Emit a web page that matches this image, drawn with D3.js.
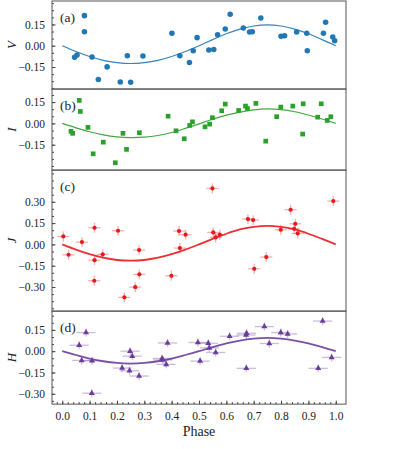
<!DOCTYPE html>
<html><head>
<meta charset="utf-8">
<script src="https://d3js.org/d3.v7.min.js"></script>
<style>
  body { margin: 0; background: #fff; }
  text { font-family: 'Liberation Serif', 'DejaVu Serif', serif; fill: #222; }
</style>
</head>
<body>
<svg id="chart" width="399" height="449"></svg>
<script>

// light curves, phase-folded
const phaseV = [0.045,0.054,0.081,0.081,0.109,0.132,0.164,0.212,0.238,0.250,0.295,0.401,0.430,0.465,0.479,0.493,0.536,0.554,0.568,0.596,0.614,0.662,0.685,0.695,0.726,0.800,0.813,0.857,0.894,0.896,0.955,0.963,0.989,0.996];
const magV   = [-0.082,-0.066,0.212,0.099,-0.080,-0.238,-0.149,-0.255,-0.071,-0.257,-0.073,0.088,-0.071,-0.118,-0.035,0.057,-0.030,-0.027,0.078,0.118,0.222,0.125,0.097,0.099,0.196,0.067,0.071,0.097,0.088,-0.035,0.088,0.166,0.062,0.035];

const phaseI = [0.032,0.038,0.062,0.066,0.094,0.113,0.150,0.194,0.222,0.235,0.282,0.387,0.416,0.446,0.466,0.476,0.522,0.539,0.549,0.583,0.596,0.645,0.670,0.677,0.708,0.744,0.784,0.799,0.843,0.879,0.881,0.934,0.947,0.969,0.982];
const magI   = [-0.056,-0.070,0.162,0.084,-0.028,-0.214,-0.132,-0.277,-0.070,-0.183,-0.066,0.051,-0.052,-0.108,-0.014,0.011,-0.024,-0.005,0.040,0.089,0.136,0.091,0.122,0.105,0.141,-0.125,0.047,0.115,0.122,-0.075,0.138,0.044,0.138,0.021,0.047];

const phaseJ = [0.004,0.023,0.072,0.118,0.118,0.117,0.148,0.204,0.227,0.267,0.281,0.282,0.399,0.427,0.430,0.451,0.549,0.552,0.561,0.576,0.679,0.698,0.702,0.746,0.799,0.835,0.848,0.852,0.861,0.991];
const magJ   = [0.056,-0.073,0.016,0.117,-0.111,-0.256,-0.070,0.096,-0.373,-0.301,-0.040,-0.211,-0.221,0.094,-0.026,0.068,0.394,0.084,0.049,0.068,0.178,0.171,-0.172,-0.089,0.103,0.244,0.110,0.145,0.077,0.305];

const phaseH = [0.062,0.087,0.071,0.109,0.108,0.219,0.246,0.248,0.256,0.281,0.365,0.368,0.380,0.385,0.496,0.504,0.534,0.538,0.561,0.612,0.672,0.674,0.673,0.739,0.757,0.799,0.824,0.936,0.952,0.985];
const magH   = [0.042,0.131,-0.065,-0.068,-0.296,-0.119,-0.138,0.000,-0.035,-0.175,-0.051,-0.062,-0.093,0.058,0.061,-0.070,0.056,0.023,-0.009,0.105,0.114,0.126,-0.121,0.173,0.054,0.131,0.121,-0.121,0.212,-0.044];

// error bar half-widths [phase, mag] for J and H
const errJ = [0.022, 0.035];
const errH = [0.035, 0.028];

// fitted model curves, read at phase steps of 0.05
const fitPhase = [0,0.05,0.10,0.15,0.20,0.25,0.30,0.35,0.40,0.45,0.50,0.55,0.60,0.65,0.70,0.75,0.80,0.85,0.90,0.95,1.0];
const fitV = [0,-0.041,-0.076,-0.103,-0.119,-0.125,-0.119,-0.103,-0.076,-0.041,0,0.043,0.084,0.117,0.139,0.147,0.139,0.117,0.084,0.043,0];
const fitI = [0,-0.031,-0.059,-0.081,-0.095,-0.100,-0.097,-0.085,-0.064,-0.035,-0.003,0.029,0.058,0.080,0.095,0.102,0.097,0.082,0.059,0.031,0];
const fitJ = [0,-0.037,-0.069,-0.094,-0.110,-0.115,-0.110,-0.094,-0.069,-0.037,0,0.039,0.075,0.105,0.124,0.131,0.124,0.105,0.075,0.039,0];
const fitH = [0,-0.027,-0.052,-0.071,-0.083,-0.087,-0.083,-0.071,-0.052,-0.027,0,0.029,0.055,0.075,0.088,0.093,0.088,0.075,0.055,0.029,0];

// y limits and major ticks of each panel
const ylimV = [-0.305, 0.315], ticksV = [-0.15, 0, 0.15];
const ylimI = [-0.329, 0.242], ticksI = [-0.15, 0, 0.15];
const ylimJ = [-0.470, 0.523], ticksJ = [-0.30, -0.15, 0, 0.15, 0.30];
const ylimH = [-0.373, 0.282], ticksH = [-0.30, -0.15, 0, 0.15];
const xTicks = [0,0.1,0.2,0.3,0.4,0.5,0.6,0.7,0.8,0.9,1.0];

const panels = [
  {label:"(a)", band:"V", ph:phaseV, mag:magV, fit:fitV, ylim:ylimV, ticks:ticksV, color:"#1f77b4", marker:"circle", lw:1.2},
  {label:"(b)", band:"I", ph:phaseI, mag:magI, fit:fitI, ylim:ylimI, ticks:ticksI, color:"#2ca02c", marker:"square", lw:1.2},
  {label:"(c)", band:"J", ph:phaseJ, mag:magJ, fit:fitJ, ylim:ylimJ, ticks:ticksJ, color:"#e8191c", marker:"dot", lw:1.8, err:errJ},
  {label:"(d)", band:"H", ph:phaseH, mag:magH, fit:fitH, ylim:ylimH, ticks:ticksH, color:"#6a3d9a", marker:"tri", lw:1.8, err:errH}
];

const svg = d3.select("#chart");
const left = 52, right = 346, top0 = 1;
const pxPerUnit = 142;   // same vertical scale in every panel
const serif = "'Liberation Serif', 'DejaVu Serif', serif";

const x = d3.scaleLinear().domain([-0.0375, 1.0375]).range([left, right]);

let yTop = top0;
panels.forEach((p, i) => {
  let h = (p.ylim[1] - p.ylim[0]) * pxPerUnit;
  let y = d3.scaleLinear().domain(p.ylim).range([yTop + h, yTop]);
  let g = svg.append("g");

  // minor ticks every 0.05
  let minor = d3.range(Math.ceil(p.ylim[0] / 0.05), Math.floor(p.ylim[1] / 0.05) + 1).map(k => +(k * 0.05).toFixed(2));
  g.append("g").attr("transform", "translate(" + left + ",0)")
    .call(d3.axisLeft(y).tickValues(minor).tickSize(-2).tickFormat(""))
    .call(a => a.select(".domain").remove())
    .selectAll("line").attr("stroke", "#444");

  g.append("g").attr("transform", "translate(" + left + ",0)")
    .attr("font-family", serif)
    .call(d3.axisLeft(y).tickValues(p.ticks).tickSize(-3.5).tickPadding(7).tickFormat(d3.format(".2f")))
    .call(a => a.select(".domain").remove())
    .call(a => a.selectAll("line").attr("stroke", "#444"))
    .call(a => a.selectAll("text").style("font-family", serif).style("font-size", "11.5px").attr("fill", "#222"));

  // band name
  g.append("text")
    .attr("transform", "translate(16," + (yTop + h / 2) + ") rotate(-90)")
    .attr("text-anchor", "middle")
    .style("font-size", "13px").style("font-style", "italic")
    .text(p.band);

  // panel tag
  g.append("text").attr("x", 60).attr("y", yTop + 21)
    .style("font-size", "13.5px").text(p.label);

  // error bars
  if (p.err) {
    let eb = g.append("g").attr("stroke", p.color).attr("stroke-opacity", 0.35).attr("stroke-width", 1.3);
    p.ph.forEach((ph, j) => {
      eb.append("line").attr("x1", x(ph - p.err[0])).attr("x2", x(ph + p.err[0]))
        .attr("y1", y(p.mag[j])).attr("y2", y(p.mag[j]));
      eb.append("line").attr("x1", x(ph)).attr("x2", x(ph))
        .attr("y1", y(p.mag[j] - p.err[1])).attr("y2", y(p.mag[j] + p.err[1]));
    });
  }

  // fitted curve
  let line = d3.line().x((d, j) => x(fitPhase[j])).y(d => y(d)).curve(d3.curveCatmullRom);
  g.append("path").attr("d", line(p.fit)).attr("fill", "none")
    .attr("stroke", p.color).attr("stroke-width", p.lw).attr("stroke-opacity", 0.9);

  // points
  let pts = p.ph.map((ph, j) => [x(ph), y(p.mag[j])]);
  let sym = {circle: d3.symbolCircle, square: d3.symbolSquare, dot: d3.symbolCircle, tri: d3.symbolTriangle}[p.marker];
  let size = {circle: 24, square: 22, dot: 14, tri: 16}[p.marker];
  g.selectAll(".pt").data(pts).join("path")
    .attr("transform", d => "translate(" + d[0] + "," + d[1] + ")")
    .attr("d", d3.symbol().type(sym).size(size))
    .attr("fill", p.color);

  // frame
  g.append("rect").attr("x", left).attr("y", yTop).attr("width", right - left).attr("height", h)
    .attr("fill", "none").attr("stroke", "#555").attr("stroke-width", 1);

  // x axis on the bottom panel only
  if (i === panels.length - 1) {
    let xm = d3.range(0, 53).map(k => -0.04 + k * 0.02).filter(v => v > -0.0375 && v < 1.0375);
    svg.append("g").attr("transform", "translate(0," + (yTop + h) + ")")
      .call(d3.axisBottom(x).tickValues(xm).tickSize(-2).tickFormat(""))
      .call(a => a.select(".domain").remove())
      .selectAll("line").attr("stroke", "#444");
    svg.append("g").attr("transform", "translate(0," + (yTop + h) + ")")
      .attr("font-family", serif)
      .call(d3.axisBottom(x).tickValues(xTicks).tickSize(-3.5).tickPadding(8).tickFormat(d3.format(".1f")))
      .call(a => a.select(".domain").remove())
      .call(a => a.selectAll("line").attr("stroke", "#444"))
      .call(a => a.selectAll("text").style("font-family", serif).style("font-size", "11.5px").attr("fill", "#222"));
    svg.append("text").attr("x", (x(0) + x(1)) / 2).attr("y", yTop + h + 32)
      .attr("text-anchor", "middle").style("font-size", "14px").text("Phase");
  }

  yTop += h;
});

</script>
</body>
</html>
